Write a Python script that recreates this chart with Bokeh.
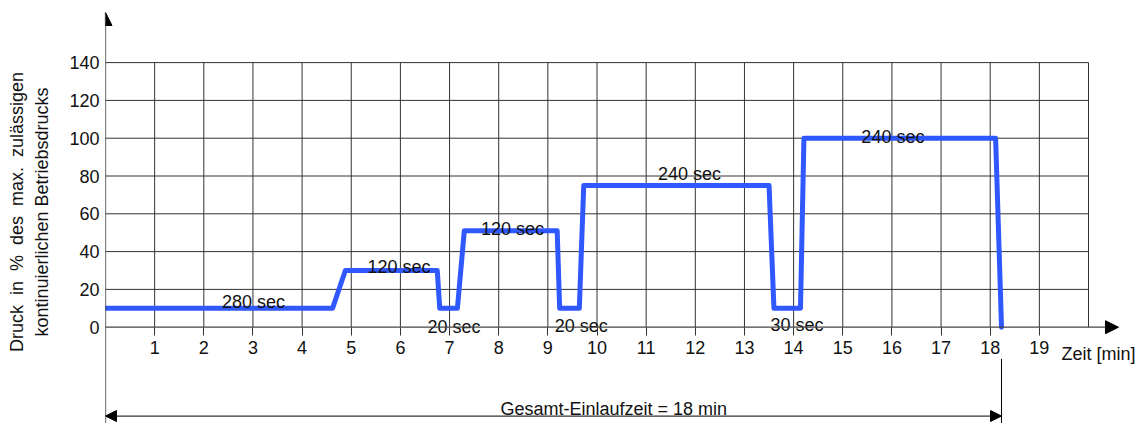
from bokeh.plotting import figure
from bokeh.models import Range1d, LinearAxis, FixedTicker, Arrow, NormalHead
from bokeh.core.properties import value
from bokeh.embed import file_html
from bokeh.resources import INLINE

# ---------------- data ----------------
time_min = [0.0, 4.62, 4.88, 6.75, 6.80, 7.16, 7.30, 9.19, 9.24, 9.64, 9.73,
            13.50, 13.60, 14.14, 14.21, 18.11, 18.23]
pressure_pct = [10, 10, 30, 30, 10, 10, 51, 51, 10, 10, 75,
                75, 10, 10, 100, 100, 0]

step_labels = ["280 sec", "120 sec", "20 sec", "120 sec", "20 sec", "240 sec", "30 sec", "240 sec"]
step_label_x = [3.01, 5.97, 7.09, 8.28, 9.68, 11.88, 14.07, 16.02]
step_label_y = [13.2, 31.7, 0.0, 52.0, 0.6, 81.2, 1.0, 100.9]

x_ticks = list(range(1, 20))
y_ticks = list(range(0, 141, 20))
grid_x_max = 20
x_axis_title = "Zeit [min]"
y_axis_title = ("Druck \u00a0in \u00a0% \u00a0des \u00a0max. \u00a0zulässigen\n"
                "kontinuierlichen Betriebsdrucks")
total_label = "Gesamt-Einlaufzeit = 18 min"

# ---------------- style ----------------
FONT = "Liberation Sans"
FS = "18px"
TXT = "#111111"
GRID = "#333333"
BLUE = "#2f58ff"

X0, X1 = 0.0, 21.017
Y0, Y1 = -50.95, 172.86

p = figure(width=1138, height=423,
           x_range=Range1d(X0, X1), y_range=Range1d(Y0, Y1),
           x_axis_location=None, y_axis_location="left",
           output_backend="svg", toolbar_location=None,
           min_border_left=105, min_border_right=0,
           min_border_top=0, min_border_bottom=0)
p.title.visible = False
p.outline_line_color = None
p.grid.visible = False

# y axis (labels only, line drawn as arrow)
ya = p.yaxis[0]
ya.ticker = FixedTicker(ticks=y_ticks)
ya.axis_line_color = None
ya.major_tick_out = 0
ya.major_tick_in = 0
ya.minor_tick_line_color = None
ya.major_label_standoff = 6
ya.major_label_text_font = FONT
ya.major_label_text_font_size = FS
ya.major_label_text_color = TXT
ya.axis_label = y_axis_title
ya.axis_label_text_font = FONT
ya.axis_label_text_font_size = FS
ya.axis_label_text_font_style = "normal"
ya.axis_label_text_color = TXT
ya.axis_label_text_line_height = 1.25
ya.axis_label_standoff = 14

# x axis at y = 0
xa = LinearAxis(fixed_location=0, ticker=FixedTicker(ticks=x_ticks))
xa.axis_line_color = None
xa.major_tick_out = 8
xa.major_tick_in = 0
xa.major_tick_line_color = GRID
xa.minor_tick_line_color = None
xa.major_label_standoff = 6
xa.major_label_text_font = FONT
xa.major_label_text_font_size = FS
xa.major_label_text_color = TXT
p.add_layout(xa, "below")

# grid limited to the data area
y_max = y_ticks[-1]
gx = list(range(1, grid_x_max + 1))
p.segment(x0=gx, y0=[0] * len(gx), x1=gx, y1=[y_max] * len(gx),
          line_color=GRID, line_width=1)
gy = y_ticks[1:]
p.segment(x0=[0] * len(gy), y0=gy, x1=[grid_x_max] * len(gy), y1=gy,
          line_color=GRID, line_width=1)

# axes arrows
p.add_layout(Arrow(end=NormalHead(size=13, fill_color="black", line_color="black"),
                   x_start=0, y_start=Y0, x_end=0, y_end=166.5,
                   line_color="black", line_width=1.2))
p.add_layout(Arrow(end=NormalHead(size=13, fill_color="black", line_color="black"),
                   x_start=0, y_start=0, x_end=20.61, y_end=0,
                   line_color="#444444", line_width=1.2))

# pressure profile
p.line(time_min, pressure_pct, line_color=BLUE, line_width=5,
       line_join="round", line_cap="round")

# step duration labels
p.text(x=step_label_x, y=step_label_y, text=step_labels,
       text_font=value(FONT), text_font_size=value(FS), text_color=TXT,
       text_align="center", text_baseline="alphabetic")

# x axis title
p.text(x=[19.45], y=[-14.1], text=[x_axis_title],
       text_font=value(FONT), text_font_size=value(FS), text_color=TXT,
       text_align="left", text_baseline="alphabetic")

# total time dimension line
t_end = time_min[-1]
dim_y = -47.0
p.segment(x0=[t_end], y0=[-16.7], x1=[t_end], y1=[Y0], line_color="black", line_width=1)
p.add_layout(Arrow(start=NormalHead(size=11, fill_color="black", line_color="black"),
                   end=NormalHead(size=11, fill_color="black", line_color="black"),
                   x_start=0, y_start=dim_y, x_end=t_end, y_end=dim_y,
                   line_color="#333333", line_width=1.2))
p.text(x=[10.34], y=[-43.3], text=[total_label],
       text_font=value(FONT), text_font_size=value(FS), text_color=TXT,
       text_align="center", text_baseline="alphabetic")

open("out.html", "w").write(file_html(p, INLINE))
